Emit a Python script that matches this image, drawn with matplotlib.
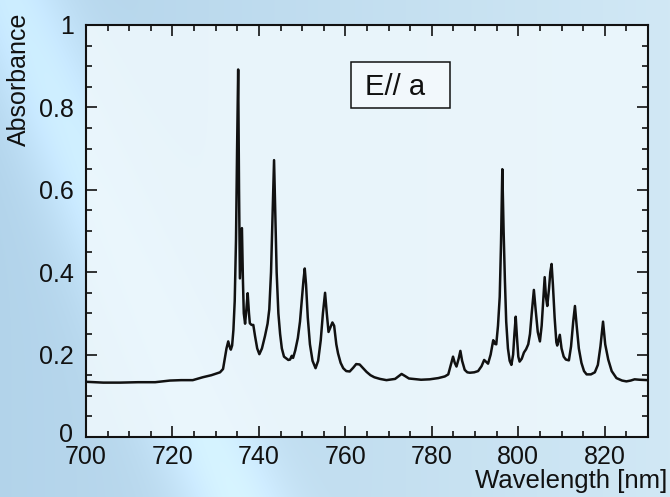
import numpy as np
import matplotlib
matplotlib.use("Agg")
import matplotlib.pyplot as plt
from matplotlib.patches import Rectangle
from matplotlib.transforms import ScaledTranslation
from matplotlib.ticker import MultipleLocator, FixedLocator, FixedFormatter

plt.rcParams['font.family'] = ['Liberation Sans', 'DejaVu Sans']

# ---- data ----
wavelength = [700.0, 704.0, 707.9, 712.0, 716.0, 719.4, 722.0, 724.7, 727.0, 729.0, 731.0, 731.7,
              732.1, 732.5, 732.9, 733.2, 733.5, 733.8, 734.1, 734.4, 734.7, 734.95, 735.2,
              735.4, 735.6, 735.85, 736.07, 736.3, 736.5, 736.8, 737.1, 737.4, 737.7, 737.9,
              738.3, 738.7, 739.1, 739.6, 740.1, 740.7, 741.4, 742.0, 742.4, 742.8, 743.1,
              743.5, 743.8, 744.1, 744.5, 744.9, 745.3, 745.8, 746.4, 746.8, 747.2, 747.6,
              747.9, 748.4, 749.0, 749.5, 749.9, 750.3, 750.6, 750.9, 751.3, 751.8, 752.4,
              753.1, 753.7, 754.3, 754.8, 755.3, 755.7, 756.1, 756.5, 757.0, 757.4, 757.9,
              758.3, 758.9, 759.5, 760.2, 761.0, 761.8, 762.5, 763.3, 764.1, 764.9, 765.8,
              766.7, 768.0, 769.5, 771.5, 772.5, 773.0, 773.8, 774.7, 775.7, 777.5, 779.5,
              781.5, 783.0, 783.8, 784.3, 784.9, 785.3, 785.7, 786.2, 786.6, 787.0, 787.6,
              788.2, 788.8, 789.8, 790.7, 791.5, 792.1, 792.5, 793.0, 793.6, 794.2, 794.6,
              794.9, 795.3, 795.7, 796.0, 796.3, 796.6, 796.9, 797.2, 797.6, 798.0, 798.4,
              798.8, 799.1, 799.4, 799.7, 800.0, 800.3, 800.8, 801.3, 801.8, 802.3, 802.7,
              803.1, 803.6, 804.0, 804.5, 805.0, 805.4, 805.8, 806.1, 806.4, 806.7, 807.1,
              807.4, 807.7, 808.0, 808.4, 808.8, 809.0, 809.3, 809.6, 810.0, 810.5, 811.0,
              811.7, 812.2, 812.7, 813.1, 813.5, 814.0, 814.6, 815.2, 815.8, 816.8, 817.7,
              818.4, 819.0, 819.6, 820.1, 820.8, 821.6, 822.7, 824.0, 825.0, 826.0, 826.9,
              828.0, 829.6, 830.0]
absorbance = [0.134, 0.132, 0.132, 0.133, 0.133, 0.137, 0.138, 0.138, 0.145, 0.150, 0.157, 0.165,
              0.190, 0.215, 0.232, 0.220, 0.212, 0.222, 0.260, 0.330, 0.480, 0.700, 0.892,
              0.600, 0.385, 0.450, 0.507, 0.380, 0.300, 0.275, 0.310, 0.349, 0.300, 0.276,
              0.272, 0.272, 0.245, 0.215, 0.201, 0.215, 0.245, 0.275, 0.310, 0.400, 0.520,
              0.672, 0.530, 0.400, 0.300, 0.250, 0.215, 0.195, 0.190, 0.187, 0.188, 0.197,
              0.192, 0.210, 0.240, 0.280, 0.330, 0.380, 0.409, 0.370, 0.290, 0.225, 0.185,
              0.167, 0.185, 0.235, 0.300, 0.350, 0.300, 0.255, 0.265, 0.278, 0.270, 0.225,
              0.203, 0.180, 0.167, 0.160, 0.159, 0.168, 0.177, 0.176, 0.167, 0.158, 0.150,
              0.145, 0.141, 0.138, 0.141, 0.149, 0.153, 0.148, 0.142, 0.141, 0.139, 0.140,
              0.143, 0.147, 0.152, 0.172, 0.195, 0.180, 0.171, 0.190, 0.209, 0.185, 0.163,
              0.157, 0.156, 0.157, 0.160, 0.172, 0.187, 0.183, 0.178, 0.200, 0.235, 0.226,
              0.225, 0.270, 0.340, 0.470, 0.650, 0.500, 0.380, 0.280, 0.215, 0.185, 0.175,
              0.200, 0.250, 0.292, 0.240, 0.195, 0.183, 0.190, 0.205, 0.213, 0.225, 0.250,
              0.300, 0.357, 0.310, 0.255, 0.232, 0.270, 0.340, 0.388, 0.340, 0.318, 0.360,
              0.400, 0.420, 0.370, 0.290, 0.230, 0.222, 0.235, 0.248, 0.215, 0.195, 0.188,
              0.186, 0.220, 0.280, 0.318, 0.270, 0.215, 0.180, 0.160, 0.152, 0.152, 0.157,
              0.175, 0.220, 0.280, 0.225, 0.188, 0.160, 0.143, 0.137, 0.135, 0.137, 0.140,
              0.139, 0.138, 0.138]

x_ticks = [700, 720, 740, 760, 780, 800, 820]
x_labels = ["700", "720", "740", "760", "780", "800", "820"]
y_ticks = [0, 0.2, 0.4, 0.6, 0.8, 1.0]
y_labels = ["0", "0.2", "0.4", "0.6", "0.8", "1"]

W, H = 670, 497
fig = plt.figure(figsize=(W / 100, H / 100), dpi=100)

# ---- background gradient ----
bg = fig.add_axes([0, 0, 1, 1], zorder=-10)
yy, xx = np.mgrid[0:H, 0:W]
t = np.clip(xx / W, 0, 1)
c1 = np.array([0.70, 0.83, 0.92])
c2 = np.array([0.82, 0.91, 0.96])
base = c1 * (1 - t[..., None]) + c2 * t[..., None]
d = (xx - 0.45 * (yy - 200)) / 40.0
band = np.exp(-((d - 2.5) ** 2) / 2.0) * 0.10
base = np.clip(base + band[..., None], 0, 1)
bg.imshow(base, aspect='auto', extent=[0, 1, 0, 1], origin='upper')
bg.set_axis_off()

# ---- main axes ----
ax = fig.add_axes([86 / W, 1 - 437 / H, (648 - 86) / W, (437 - 25) / H])
ax.set_facecolor((0.93, 0.97, 0.99, 0.9))
ax.plot(wavelength, absorbance, color='#111111', lw=1.8, solid_joinstyle='round')

ax.set_xlim(700, 830)
ax.set_ylim(0, 1)
ax.xaxis.set_major_locator(FixedLocator(x_ticks))
ax.xaxis.set_major_formatter(FixedFormatter(x_labels))
ax.yaxis.set_major_locator(FixedLocator(y_ticks))
ax.yaxis.set_major_formatter(FixedFormatter(y_labels))
ax.xaxis.set_minor_locator(MultipleLocator(5))
ax.yaxis.set_minor_locator(MultipleLocator(0.05))
ax.tick_params(which='both', direction='in', top=True, right=True, width=1.2, colors='#111111')
ax.tick_params(which='major', length=8, labelsize=18)
ax.tick_params(which='minor', length=4)
ax.tick_params(axis='y', pad=9)
ax.tick_params(axis='x', pad=6)
for s in ax.spines.values():
    s.set_linewidth(1.5)
    s.set_color('#111111')

# nudge the "0" y label up slightly so it clears "700"
fig.canvas.draw()
zero_lbl = ax.yaxis.get_majorticklabels()[0]
zero_lbl.set_transform(zero_lbl.get_transform() + ScaledTranslation(0, 3 / 72, fig.dpi_scale_trans))

fig.text(19 / W, 1 - 79 / H, 'Absorbance', rotation=90, ha='center', va='center',
         fontsize=18, color='#111111')
fig.text(667 / W, 9 / H, 'Wavelength [nm]', ha='right', va='baseline',
         fontsize=18.5, color='#111111')

fig.patches.append(Rectangle((351 / W, 1 - 108 / H), 99 / W, 46 / H,
                             transform=fig.transFigure, facecolor=(1, 1, 1, 0.45),
                             edgecolor='#111111', lw=1.1, zorder=5))
fig.text(365 / W, 1 - 95 / H, 'E// a', ha='left', va='baseline', fontsize=21,
         color='#111111', zorder=6)

fig.savefig('out.png', dpi=100)
